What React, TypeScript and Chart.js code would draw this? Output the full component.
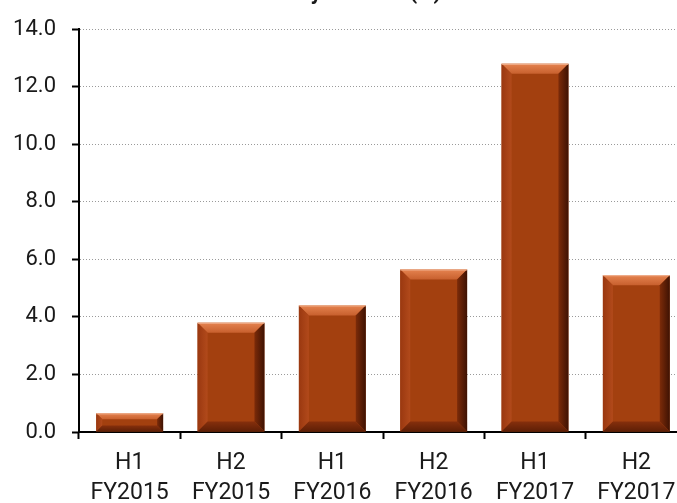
import React, { useEffect, useRef } from "react";
import { Chart, registerables } from "chart.js";

Chart.register(...registerables);

const categories: string[][] = [
  ["H1", "FY2015"],
  ["H2", "FY2015"],
  ["H1", "FY2016"],
  ["H2", "FY2016"],
  ["H1", "FY2017"],
  ["H2", "FY2017"],
];
const values: number[] = [0.65, 3.8, 4.4, 5.65, 12.8, 5.45];
const titleText = "Payout ratio (%)";
const yMin = 0;
const yMax = 14;
const yStep = 2;

const FONT = "Roboto, 'Liberation Sans', sans-serif";

const bevelPlugin = {
  id: "bevel",
  afterDatasetsDraw(chart: any) {
    const ctx: CanvasRenderingContext2D = chart.ctx;
    const meta = chart.getDatasetMeta(0);
    meta.data.forEach((el: any) => {
      const { x, y, base, width } = el.getProps(["x", "y", "base", "width"], true);
      const l = x - width / 2;
      const r = x + width / 2;
      const t = Math.min(y, base);
      const b = Math.max(y, base);
      const h = b - t;
      const bv = Math.min(10, h * 0.33, width * 0.2);
      ctx.save();
      // top bevel
      let g = ctx.createLinearGradient(0, t, 0, t + bv);
      g.addColorStop(0, "#E58350");
      g.addColorStop(1, "#C8602E");
      ctx.fillStyle = g;
      ctx.beginPath();
      ctx.moveTo(l, t);
      ctx.lineTo(r, t);
      ctx.lineTo(r - bv, t + bv);
      ctx.lineTo(l + bv, t + bv);
      ctx.closePath();
      ctx.fill();
      // left bevel
      g = ctx.createLinearGradient(l, 0, l + bv, 0);
      g.addColorStop(0, "#9A3810");
      g.addColorStop(1, "#B24A1B");
      ctx.fillStyle = g;
      ctx.beginPath();
      ctx.moveTo(l, t);
      ctx.lineTo(l + bv, t + bv);
      ctx.lineTo(l + bv, b - bv);
      ctx.lineTo(l, b);
      ctx.closePath();
      ctx.fill();
      // right bevel
      g = ctx.createLinearGradient(r - bv, 0, r, 0);
      g.addColorStop(0, "#7C2B09");
      g.addColorStop(1, "#3E1203");
      ctx.fillStyle = g;
      ctx.beginPath();
      ctx.moveTo(r, t);
      ctx.lineTo(r - bv, t + bv);
      ctx.lineTo(r - bv, b - bv);
      ctx.lineTo(r, b);
      ctx.closePath();
      ctx.fill();
      // bottom bevel
      g = ctx.createLinearGradient(0, b - bv, 0, b);
      g.addColorStop(0, "#862F0C");
      g.addColorStop(1, "#5E1F06");
      ctx.fillStyle = g;
      ctx.beginPath();
      ctx.moveTo(l, b);
      ctx.lineTo(r, b);
      ctx.lineTo(r - bv, b - bv);
      ctx.lineTo(l + bv, b - bv);
      ctx.closePath();
      ctx.fill();
      // light top edge
      ctx.strokeStyle = "rgba(245,190,160,0.9)";
      ctx.lineWidth = 1;
      ctx.beginPath();
      ctx.moveTo(l, t + 0.5);
      ctx.lineTo(r, t + 0.5);
      ctx.stroke();
      ctx.restore();
    });
  },
};

const cutTitlePlugin = {
  id: "cutTitle",
  afterDraw(chart: any) {
    const ctx: CanvasRenderingContext2D = chart.ctx;
    const area = chart.chartArea;
    ctx.save();
    ctx.font = `bold 22px ${FONT}`;
    ctx.fillStyle = "#1a1a1a";
    ctx.textAlign = "center";
    ctx.textBaseline = "alphabetic";
    ctx.fillText(titleText, (area.left + area.right) / 2 - 20, -1.5);
    ctx.restore();
  },
};

export default function App() {
  const canvasRef = useRef<HTMLCanvasElement | null>(null);

  useEffect(() => {
    if (!canvasRef.current) return;
    const chart = new Chart(canvasRef.current, {
      type: "bar",
      data: {
        labels: categories,
        datasets: [
          {
            data: values,
            backgroundColor: "#A3400F",
            borderWidth: 0,
            barPercentage: 0.66,
            categoryPercentage: 1,
          },
        ],
      },
      options: {
        animation: false,
        responsive: true,
        maintainAspectRatio: false,
        layout: { padding: { top: 25, right: 1, bottom: 0, left: 0 } },
        plugins: {
          legend: { display: false },
          title: { display: false },
          tooltip: { enabled: false },
        },
        scales: {
          x: {
            offset: true,
            grid: {
              display: true,
              offset: true,
              drawOnChartArea: false,
              tickLength: 7,
              tickColor: "#000",
              tickWidth: 2,
            },
            border: { display: true, color: "#000", width: 2 },
            ticks: {
              color: "#1a1a1a",
              padding: 9,
              maxRotation: 0,
              autoSkip: false,
              font: { family: FONT, size: 23, lineHeight: 1.3 },
            },
            afterFit: (scale: any) => {
              scale.height = 80;
            },
          },
          y: {
            min: yMin,
            max: yMax,
            ticks: {
              stepSize: yStep,
              color: "#1a1a1a",
              padding: 16,
              font: { family: FONT, size: 22 },
              callback: (v: any) => Number(v).toFixed(1),
            },
            grid: {
              color: "#9a9a9a",
              lineWidth: 1,
              tickLength: 7,
              tickColor: "#000",
              tickWidth: 2,
              tickBorderDash: [],
            },
            border: { display: true, color: "#000", width: 2, dash: [1, 2] },
            afterFit: (scale: any) => {
              scale.width = 79;
            },
          },
        },
      },
      plugins: [bevelPlugin, cutTitlePlugin],
    });
    return () => chart.destroy();
  }, []);

  return (
    <div
      style={{
        position: "fixed",
        left: 0,
        top: 0,
        width: 677,
        height: 503,
        overflow: "hidden",
        background: "#fff",
      }}
    >
      <div style={{ position: "absolute", left: 0, top: 0, width: 688, height: 512 }}>
        <canvas ref={canvasRef} />
      </div>
    </div>
  );
}
